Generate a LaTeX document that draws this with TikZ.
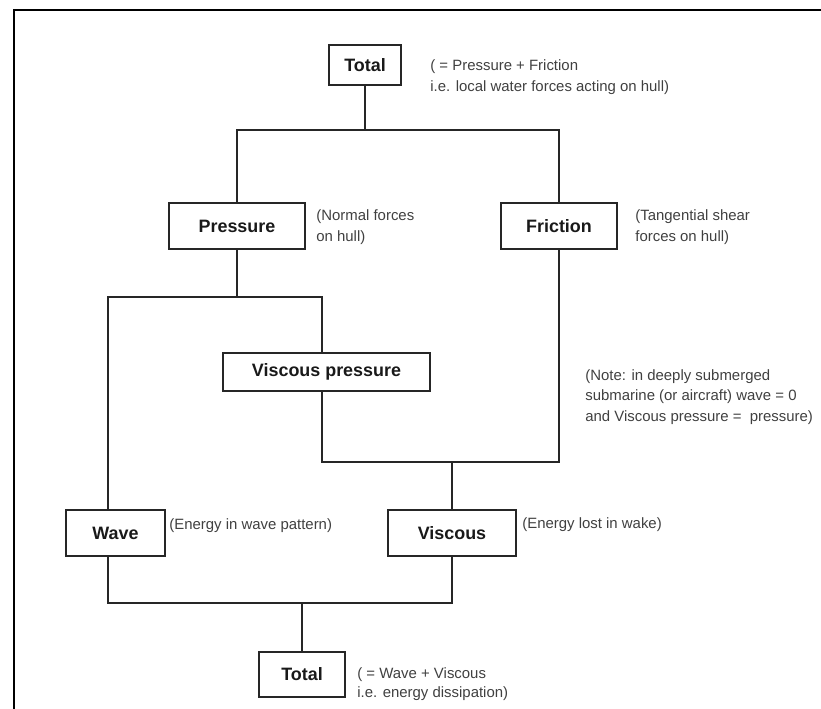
\documentclass[tikz,border=0pt]{standalone}
\usepackage{fontspec}
\setmainfont{Liberation Sans}
\begin{document}
\begin{tikzpicture}[x=0.02cm, y=-0.02cm,
        box/.style={draw=black!85, line width=0.9pt, inner sep=0pt, font=\fontsize{10.2}{12}\selectfont\bfseries, text=black!90},
        note/.style={anchor=base west, inner sep=0pt, align=left, font=\fontsize{8.5}{12}\selectfont, text=black!75},
        wire/.style={draw=black!85, line width=0.8pt}]
    \useasboundingbox (0,0) rectangle (821,709);
    \draw[line width=1.2pt] (14,709) -- (14,10) -- (821,10);
    % boxes
    \node[box, minimum width=1.44cm, minimum height=0.8cm] (tot1) at (365,65) {Total};
    \node[box, minimum width=2.72cm, minimum height=0.92cm] (pres) at (237,226) {Pressure};
    \node[box, minimum width=2.32cm, minimum height=0.92cm] (fric) at (559,226) {Friction};
    \node[box, minimum width=4.14cm, minimum height=0.76cm] (vp) at (326.5,372) {Viscous pressure};
    \node[box, minimum width=1.98cm, minimum height=0.92cm] (wave) at (115.5,533) {Wave};
    \node[box, minimum width=2.56cm, minimum height=0.92cm] (visc) at (452,533) {Viscous};
    \node[box, minimum width=1.72cm, minimum height=0.9cm] (tot2) at (302,674.5) {Total};
    % notes (base = last line)
    \node[note] (ntot1) at (430,92) {( = Pressure + Friction\\i.e. local water forces acting on hull)};
    \node[note] (npres) at (316,242) {(Normal forces\\on hull)};
    \node[note] (nfric) at (635,242) {(Tangential shear\\forces on hull)};
    \node[note, font=\fontsize{8.5}{11.6}\selectfont] (nsub) at (585,421) {(Note: in deeply submerged\\submarine (or aircraft) wave = 0\\and Viscous pressure = \ pressure)};
    \node[note] (nwave) at (169,529) {(Energy in wave pattern)};
    \node[note] (nvisc) at (522,528) {(Energy lost in wake)};
    \node[note, font=\fontsize{8.5}{10.5}\selectfont] (ntot2) at (357,697) {( = Wave + Viscous\\i.e. energy dissipation)};
    % connectors
    \coordinate (top) at (365,130);
    \coordinate (wl) at (108,297);
    \coordinate (vr) at (322,297);
    \coordinate (vj) at (452,462);
    \coordinate (bj) at (302,603);
    \draw[wire] (tot1) -- (top);
    \draw[wire] (pres) |- (top) -| (fric);
    \draw[wire] (pres) -- (pres |- wl);
    \draw[wire] (wl |- wave.north) -- (wl) -- (vr) -- (vr |- vp.north);
    \draw[wire] (vr |- vp.south) -- (vr |- vj) -- (fric |- vj) -- (fric);
    \draw[wire] (visc) -- (vj);
    \draw[wire] (wl |- wave.south) -- (wl |- bj) -- (visc |- bj) -- (visc);
    \draw[wire] (bj) -- (tot2);
\end{tikzpicture}
\end{document}
